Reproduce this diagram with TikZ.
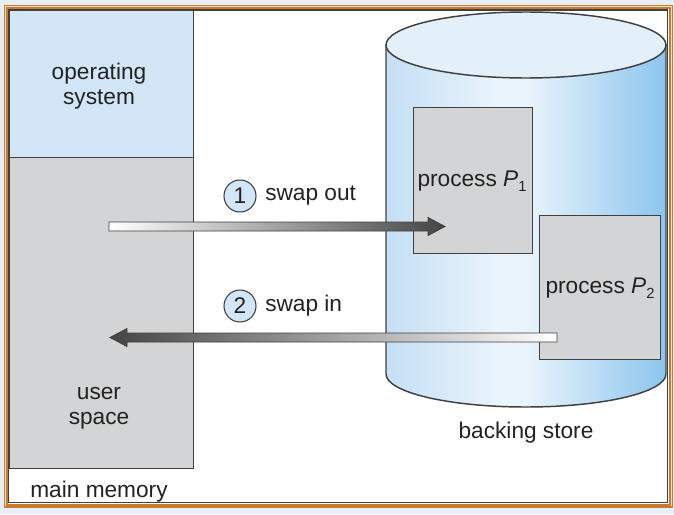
\documentclass[tikz,border=0pt]{standalone}
\usepackage{fontspec}
\setmainfont{Liberation Sans}
\usetikzlibrary{calc,shapes.geometric}
\definecolor{bgblue}{HTML}{E6EFF9}
\definecolor{frameor}{HTML}{C87A2E}
\definecolor{framelt}{HTML}{F2DEC4}
\definecolor{osblue}{HTML}{D2E6F7}
\definecolor{usergray}{HTML}{D3D4D5}
\definecolor{edge}{HTML}{404040}
\definecolor{txt}{HTML}{222222}
\definecolor{cA}{HTML}{C4DFF5}
\definecolor{cB}{HTML}{EAF4FC}
\definecolor{cC}{HTML}{8CC5EE}
\definecolor{topfill}{HTML}{E3F0FA}
\definecolor{arrdark}{HTML}{454545}
\pgfdeclarehorizontalshading{cylshade}{100bp}{color(0bp)=(cA); color(25bp)=(cA); color(45bp)=(cB); color(50bp)=(cB); color(75bp)=(cC); color(100bp)=(cC)}
\tikzset{
  lbl/.style={text=txt, font=\fontsize{17}{19}\selectfont, align=center, inner sep=0pt},
  membox/.style={draw=edge, line width=0.8pt},
  procbox/.style={draw=edge, line width=0.8pt, fill=usergray},
  numcirc/.style={circle, draw=edge, line width=0.8pt, fill=osblue, minimum size=24pt, inner sep=0pt, text=txt, font=\fontsize{17}{19}\selectfont},
  arrowshape/.style={draw=edge, line width=0.6pt}
}
\newcommand{\procP}[1]{process \textit{P}\raisebox{-0.4ex}{\fontsize{11}{11}\selectfont #1}}
\begin{document}
\begin{tikzpicture}[x=0.75pt,y=-0.75pt]
\useasboundingbox (0,0) rectangle (674,514);
\fill[bgblue] (0,0) rectangle (674,514);
% frame
\draw[frameor, line width=1pt, fill=framelt] (4.5,5.5) rectangle (672.5,507);
\draw[frameor, line width=1.2pt, fill=white] (6.8,7.8) rectangle (670,504.8);
\draw[edge, line width=0.9pt, fill=white] (8.5,10) rectangle (667.5,502.5);
% main memory
\node[membox, fill=osblue, minimum width=184.5*0.75pt, minimum height=147*0.75pt, inner sep=0pt, anchor=north west] (os) at (8.5,10) {};
\node[membox, fill=usergray, minimum width=184.5*0.75pt, minimum height=311*0.75pt, inner sep=0pt, anchor=north west] (user) at (8.5,157) {};
\node[lbl] (ostxt) at (99,86) {operating\\system};
\node[lbl] (usertxt) at (99,408) {user\\space};
\node[lbl] (mm) at (99,492) {main memory};
% cylinder
\path[shading=cylshade, draw=edge, line width=1.1pt] (386,45) -- (386,374) arc[start angle=180, end angle=0, x radius=140, y radius=33] -- (666,45) -- cycle;
\node[ellipse, draw=edge, line width=1.1pt, fill=topfill, minimum width=280*0.75pt, minimum height=66*0.75pt, inner sep=0pt] (cyltop) at (526,45) {};
\node[lbl] (bs) at (526,433) {backing store};
% processes
\node[procbox, minimum width=119*0.75pt, minimum height=146*0.75pt, inner sep=0pt, anchor=north west] (p1) at (413,107) {};
\node[procbox, minimum width=121*0.75pt, minimum height=144*0.75pt, inner sep=0pt, anchor=north west] (p2) at (539,215) {};
\node[lbl] (p1txt) at (472,181) {\procP{1}};
\node[lbl] (p2txt) at (600,288) {\procP{2}};
% arrows
\coordinate (a1s) at (109,226.5);
\coordinate (a1e) at (445,226.5);
\coordinate (a2s) at (557,337.5);
\coordinate (a2e) at (110,337.5);
\path[arrowshape, left color=white, right color=arrdark]
  ($(a1s)+(0,-4.5)$) -- ($(a1e)+(-17,-4.5)$) -- ($(a1e)+(-17,-9)$) -- (a1e) -- ($(a1e)+(-17,9)$) -- ($(a1e)+(-17,4.5)$) -- ($(a1s)+(0,4.5)$) -- cycle;
\path[arrowshape, left color=arrdark, right color=white]
  ($(a2s)+(0,-4.5)$) -- ($(a2e)+(17,-4.5)$) -- ($(a2e)+(17,-9)$) -- (a2e) -- ($(a2e)+(17,9)$) -- ($(a2e)+(17,4.5)$) -- ($(a2s)+(0,4.5)$) -- cycle;
% labels
\node[numcirc] (c1) at (240,196) {1};
\node[numcirc] (c2) at (240,306) {2};
\node[lbl, anchor=west] (so) at (265,196) {swap out};
\node[lbl, anchor=west] (si) at (265,306) {swap in};
\end{tikzpicture}
\end{document}
